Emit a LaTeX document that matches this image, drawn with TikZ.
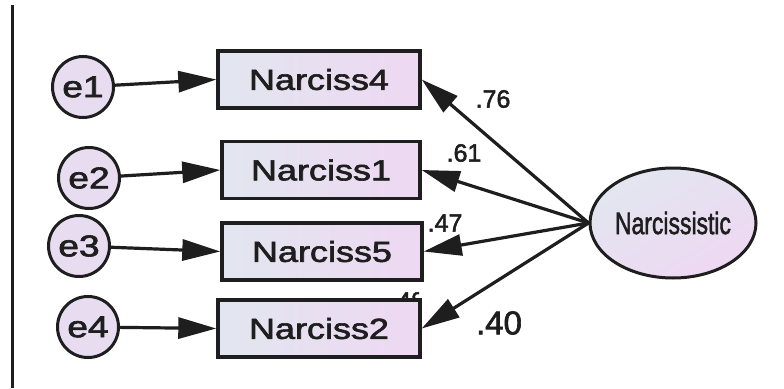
\documentclass[tikz,border=0pt]{standalone}
\usepackage{fontspec}
\usepackage{graphicx}
\setmainfont{Liberation Sans}
\newfontfamily\heavy{Liberation Sans}[FakeBold=2]
\usetikzlibrary{arrows.meta,shapes.geometric}
\newcommand{\wide}[2][1.24]{\scalebox{#1}[1]{#2}}
\definecolor{boxleft}{HTML}{E2E6F0}
\definecolor{boxright}{HTML}{EED8F2}
\definecolor{errfill}{HTML}{E8DCF0}
\definecolor{ink}{HTML}{1E1E1E}
\tikzset{
  observed/.style={draw=ink, line width=3.4pt, rectangle, left color=boxleft, right color=boxright,
    minimum height=57pt, inner sep=0pt, text=ink, font=\heavy\fontsize{29}{30}\selectfont},
  errterm/.style={draw=ink, line width=3pt, circle, fill=errfill, minimum size=61pt, inner sep=0pt,
    text=ink, font=\heavy\fontsize{30}{31}\selectfont},
  latent/.style={draw=ink, line width=3pt, ellipse, inner sep=0pt, minimum width=166pt, minimum height=110pt,
    shading=axis, top color=boxleft, bottom color=boxright, shading angle=30, text=ink,
    font=\heavy\fontsize{31}{32}\selectfont},
  path/.style={draw=ink, line width=3.2pt, -{Triangle[length=38pt,width=21pt]}},
  weight/.style={text=ink, inner sep=0pt, font=\heavy\fontsize{25}{26}\selectfont},
}
\begin{document}
\begin{tikzpicture}[x=1pt, y=-1pt]
  \useasboundingbox (0,0) rectangle (784,388);
  \fill[white] (0,0) rectangle (784,388);
  % frame edge on the left
  \draw[ink, line width=3.2pt] (12.5,5) -- (12.5,388);

  % loading partly hidden behind the lowest indicator
  \begin{scope}
    \clip (380,285) rectangle (419,310);
    \node[weight, anchor=north west] (w48) at (390,292) {.48};
  \end{scope}

  % indicators
  \node[observed, minimum width=202pt] (n4) at (319,79.5) {\wide{Narciss4}};
  \node[observed, minimum width=198pt] (n1) at (321,170) {\wide{Narciss1}};
  \node[observed, minimum width=200pt] (n5) at (322,251.5) {\wide{Narciss5}};
  \node[observed, minimum width=202pt] (n2) at (319,328.5) {\wide{Narciss2}};

  % error terms
  \node[errterm] (e1) at (83,87) {\wide{e1}};
  \node[errterm] (e2) at (89,178) {\wide{e2}};
  \node[errterm] (e3) at (79,246) {\wide{e3}};
  \node[errterm] (e4) at (88,327) {\wide{e4}};

  % latent factor
  \node[latent] (f) at (673,223) {\wide[0.74]{Narcissistic}};

  % error paths
  \draw[path] (e1) -- (n4.west);
  \draw[path] (e2) -- (n1.west);
  \draw[path] (e3) -- (n5.west);
  \draw[path] (e4) -- (n2.west);

  % factor loadings
  \draw[path] (f.west) -- (n4.east);
  \draw[path] (f.west) -- (n1.east);
  \draw[path] (f.west) -- (n5.east);
  \draw[path] (f.west) -- (n2.east);

  \node[weight] (w76) at (493,99) {.76};
  \node[weight] (w61) at (464,153) {.61};
  \node[weight] (w47) at (445,223) {.47};
  \node[weight, font=\heavy\fontsize{33}{34}\selectfont] (w40) at (499,323) {.40};
\end{tikzpicture}
\end{document}
